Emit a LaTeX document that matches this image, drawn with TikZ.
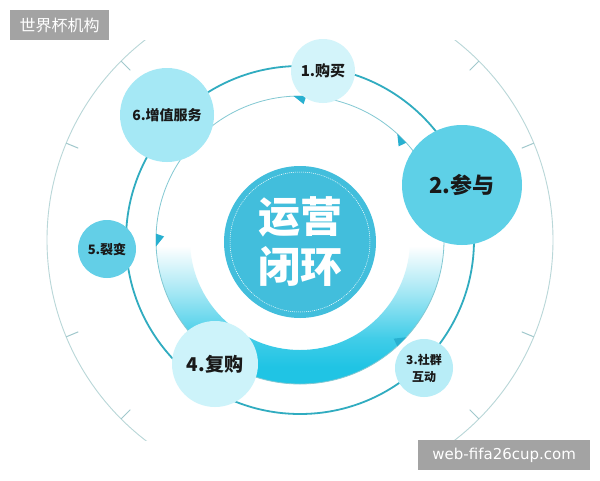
\documentclass[tikz,border=0pt]{standalone}
\usepackage{fontspec}
\newfontfamily\cjk{Noto Sans CJK SC}
\newfontfamily\wmfont{DejaVu Sans}
\usetikzlibrary{calc}
\definecolor{outerc}{RGB}{185,215,216}
\definecolor{tickc}{RGB}{160,200,204}
\definecolor{bandc}{RGB}{32,196,228}
\definecolor{thinc}{RGB}{130,200,210}
\definecolor{arrowc}{RGB}{40,176,208}
\definecolor{tealc}{RGB}{48,172,192}
\definecolor{centerc}{RGB}{66,190,220}
\definecolor{fillA}{RGB}{211,244,250}
\definecolor{fillB}{RGB}{94,208,231}
\definecolor{fillC}{RGB}{184,237,247}
\definecolor{fillD}{RGB}{205,243,250}
\definecolor{fillE}{RGB}{99,207,231}
\definecolor{fillF}{RGB}{165,232,245}
\definecolor{textc}{RGB}{25,25,25}
\definecolor{wmgray}{RGB}{163,163,163}
\pgfdeclareverticalshading{bandshade}{100bp}{color(0bp)=(bandc); color(28bp)=(bandc); color(33bp)=(bandc!85!white); color(41bp)=(bandc!40!white); color(49bp)=(white); color(100bp)=(white)}
\tikzset{
  stage/.style={circle, inner sep=0pt, text=textc, align=center},
  watermark/.style={fill=wmgray, text=white, inner sep=0pt, anchor=north west, minimum height=30pt}
}
\begin{document}
\begin{tikzpicture}[x=1pt,y=-1pt]
\useasboundingbox[fill=white] (0,0) rectangle (600,480);
\coordinate (c) at (300,240);
% outer arc with ticks
\begin{scope}
  \clip (0,40) rectangle (600,440);
  \draw[outerc, line width=0.9pt] (c) circle (253pt);
  \foreach \a in {22.5,45,135,157.5,202.5,225,315,337.5}
    \draw[tickc, line width=1pt] ($(c)+(\a:240pt)$) -- ($(c)+(\a:253pt)$);
\end{scope}
% gradient band
\path[shading=bandshade, even odd rule] (c) circle (144pt) (c) circle (110pt);
% thin inner circle with arrow marks
\draw[thinc, line width=0.8pt] (c) circle (144pt);
\foreach \a in {90,45,-45,180}
  \fill[arrowc] ($(c)+(\a+2.5:144pt)$) -- ($(c)+(\a-2.5:144pt)$) -- ($(c)+(\a-1.5:136pt)$) -- cycle;
% teal circle
\draw[tealc, line width=1.8pt] (c) circle (174pt);
% core
\node[circle, fill=centerc, minimum size=152pt, inner sep=0pt, text=white, align=center,
      font=\cjk\bfseries\fontsize{42}{50}\selectfont] (core) at (300,242) {运营\\闭环};
\draw[white, dash pattern=on 1pt off 1pt, line width=0.5pt] (core.center) circle (70pt);
% stages
\node[stage, fill=fillA, minimum size=64pt, font=\cjk\bfseries\fontsize{15}{18}\selectfont] (n1) at (323,71) {1.购买};
\node[stage, fill=fillB, minimum size=120pt, font=\cjk\bfseries\fontsize{22}{26}\selectfont] (n2) at (462,185) {2.参与};
\node[stage, fill=fillC, minimum size=58pt, font=\cjk\bfseries\fontsize{12}{17}\selectfont] (n3) at (424,368) {3.社群\\互动};
\node[stage, fill=fillD, minimum size=86pt, font=\cjk\bfseries\fontsize{19}{22}\selectfont] (n4) at (215,364) {4.复购};
\node[stage, fill=fillE, minimum size=58pt, font=\cjk\bfseries\fontsize{13}{16}\selectfont] (n5) at (107,249) {5.裂变};
\node[stage, fill=fillF, minimum size=94pt, font=\cjk\bfseries\fontsize{14}{17}\selectfont] (n6) at (167,115) {6.增值服务};
% watermarks
\node[watermark, minimum width=99pt, font=\cjk\fontsize{16}{16}\selectfont] (wm1) at (10,10) {世界杯机构};
\node[watermark, minimum width=172pt, font=\wmfont\fontsize{15}{15}\selectfont] (wm2) at (418,440) {web-fifa26cup.com};
\end{tikzpicture}
\end{document}
